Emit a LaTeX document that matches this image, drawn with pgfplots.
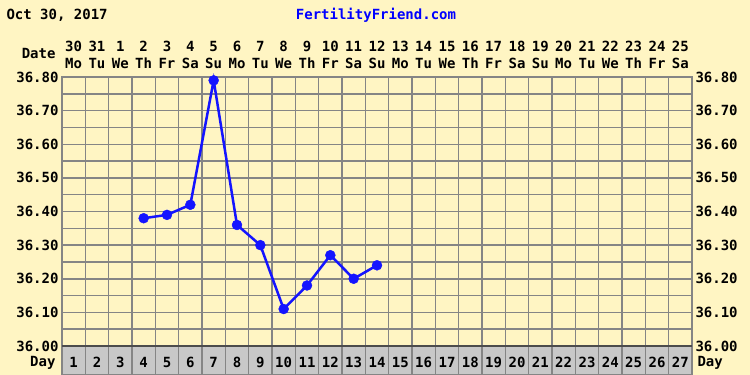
\documentclass[border=0pt]{standalone}
\usepackage{pgfplots}
\pgfplotsset{compat=1.18}
\usepackage{fontspec}
\setmainfont{DejaVu Sans Mono}
\definecolor{bg}{HTML}{FFF5C3}
\definecolor{cellgray}{HTML}{C8C8C8}
\definecolor{gridc}{HTML}{858585}
\definecolor{ffblue}{HTML}{0000FF}
\definecolor{lineblue}{HTML}{1414FF}
\newcommand{\pf}{\bfseries\fontsize{14}{17}\selectfont}
\begin{document}
\begin{tikzpicture}[x=1pt,y=1pt]
\path[use as bounding box, fill=bg] (0,0) rectangle (750,375);
\fill[cellgray] (62,0) rectangle (692,29);
\node[anchor=west, font=\pf] at (3,360) {Oct 30, 2017};
\node[font=\pf, text=ffblue] at (376,360) {FertilityFriend.com};
\node[anchor=east, font=\pf] at (59,322) {Date};
\node[anchor=east, font=\pf] at (59,12) {Day};
\node[anchor=west, font=\pf] at (694,12) {Day};
\begin{axis}[
  at={(62pt,0pt)}, anchor=south west, scale only axis,
  width=630pt, height=298pt,
  xmin=0, xmax=27, ymin=35.91375, ymax=36.80,
  clip=false,
  axis line style={draw=gridc, line width=1.5pt},
  major tick length=0pt, minor tick length=0pt,
  xtick={0.5,1.5,...,26.5},
  xticklabels={{30\\Mo},{31\\Tu},{1\\We},{2\\Th},{3\\Fr},{4\\Sa},{5\\Su},{6\\Mo},{7\\Tu},{8\\We},{9\\Th},{10\\Fr},{11\\Sa},{12\\Su},{13\\Mo},{14\\Tu},{15\\We},{16\\Th},{17\\Fr},{18\\Sa},{19\\Su},{20\\Mo},{21\\Tu},{22\\We},{23\\Th},{24\\Fr},{25\\Sa}},
  xticklabel pos=upper,
  xticklabel style={font=\pf, align=center, inner sep=2pt, yshift=6pt},
  minor xtick={0,1,...,27},
  xminorgrids,
  ytick={36.0,36.1,36.2,36.3,36.4,36.5,36.6,36.7,36.8},
  minor ytick={36.05,36.15,36.25,36.35,36.45,36.55,36.65,36.75},
  ymajorgrids, yminorgrids,
  yticklabel style={font=\pf, /pgf/number format/.cd, fixed, fixed zerofill, precision=2, assume math mode=true},
  major grid style={draw=gridc, line width=1.5pt},
  minor grid style={draw=gridc, line width=1.5pt},
]
\addplot[lineblue, line width=2.5pt, mark=*, mark size=5pt, mark options={solid, fill=lineblue, draw=lineblue, line width=0.4pt}]
coordinates {(3.5,36.38) (4.5,36.39) (5.5,36.42) (6.5,36.79) (7.5,36.36) (8.5,36.30) (9.5,36.11) (10.5,36.18) (11.5,36.27) (12.5,36.20) (13.5,36.24)};
\draw[black!70, line width=2pt] (axis cs:0,36.0) -- (axis cs:27,36.0);
\pgfplotsinvokeforeach{36.00,36.10,36.20,36.30,36.40,36.50,36.60,36.70,36.80}{
  \node[anchor=west, font=\pf] at (axis cs:27,#1) {#1};
}
\pgfplotsinvokeforeach{1,...,27}{
  \node[font=\pf, xshift=-11.667pt] at (axis cs:#1,35.951) {#1};
}
\end{axis}
\end{tikzpicture}
\end{document}
